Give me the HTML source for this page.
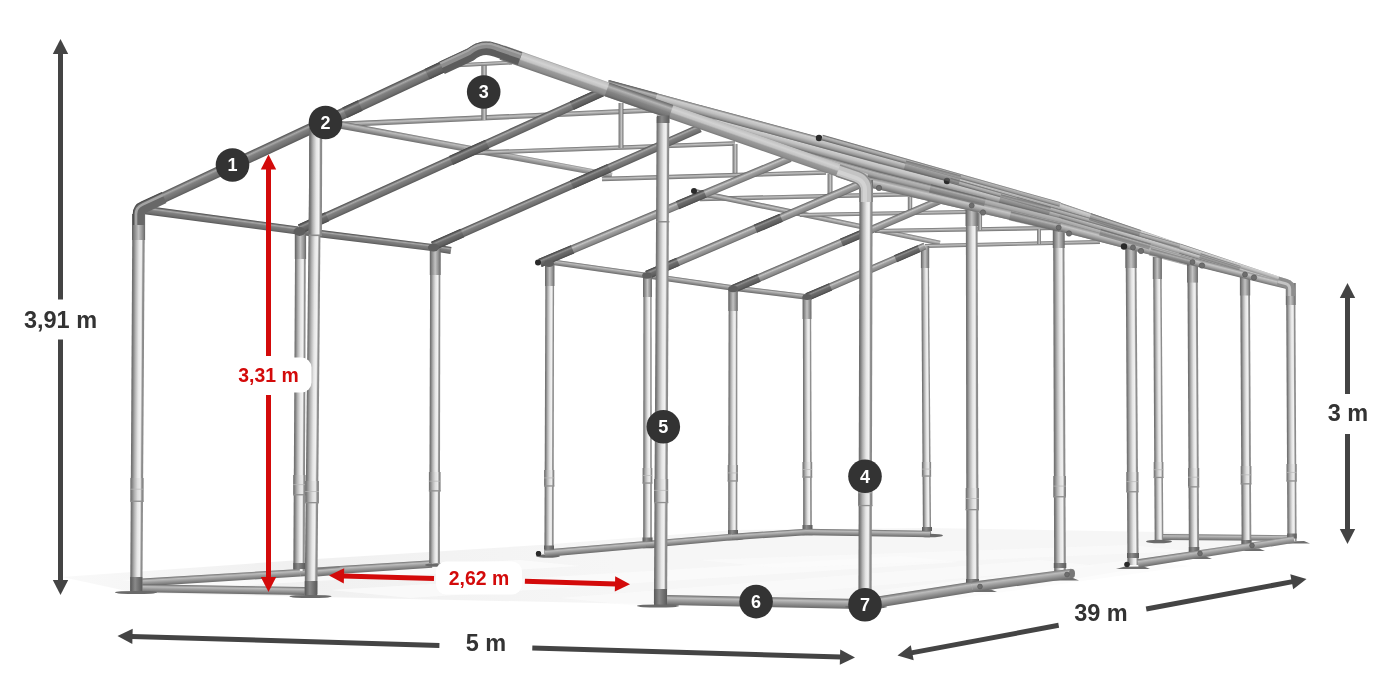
<!DOCTYPE html>
<html lang="pl"><head><meta charset="utf-8"><title>Wymiary hali namiotowej</title>
<style>html,body{margin:0;padding:0;background:#fff}svg{display:block;will-change:transform}text{font-family:"Liberation Sans",sans-serif;font-weight:700}</style></head>
<body><svg width="1400" height="700" viewBox="0 0 1400 700">
<rect width="1400" height="700" fill="#fff"/>
<defs>
<linearGradient id="gPost" x1="0" y1="0" x2="0" y2="1"><stop offset="0" stop-color="#6c6c6c"/><stop offset=".1" stop-color="#787878"/><stop offset=".3" stop-color="#b2b2b2"/><stop offset=".55" stop-color="#e6e6e6"/><stop offset=".74" stop-color="#f2f2f2"/><stop offset=".8" stop-color="#d4d4d4"/><stop offset=".86" stop-color="#929292"/><stop offset="1" stop-color="#868686"/></linearGradient>
<linearGradient id="gPostH" x1="0" y1="0" x2="1" y2="0"><stop offset="0" stop-color="#707070"/><stop offset=".1" stop-color="#7e7e7e"/><stop offset=".3" stop-color="#b0b0b0"/><stop offset=".55" stop-color="#dedede"/><stop offset=".74" stop-color="#eaeaea"/><stop offset=".8" stop-color="#cccccc"/><stop offset=".86" stop-color="#8e8e8e"/><stop offset="1" stop-color="#828282"/></linearGradient>
<linearGradient id="gSleeve" x1="0" y1="0" x2="1" y2="0"><stop offset="0" stop-color="#5e5e5e"/><stop offset=".2" stop-color="#8a8a8a"/><stop offset=".5" stop-color="#c2c2c2"/><stop offset=".75" stop-color="#9a9a9a"/><stop offset="1" stop-color="#666"/></linearGradient>
<linearGradient id="gBase" x1="0" y1="0" x2="1" y2="0"><stop offset="0" stop-color="#585858"/><stop offset=".4" stop-color="#8a8a8a"/><stop offset="1" stop-color="#5a5a5a"/></linearGradient>
<linearGradient id="gDark" x1="0" y1="0" x2="0" y2="1"><stop offset="0" stop-color="#484848"/><stop offset=".12" stop-color="#6a6a6a"/><stop offset=".28" stop-color="#a8a8a8"/><stop offset=".46" stop-color="#808080"/><stop offset=".8" stop-color="#6e6e6e"/><stop offset="1" stop-color="#565656"/></linearGradient>
<linearGradient id="gRaftL" x1="0" y1="0" x2="0" y2="1"><stop offset="0" stop-color="#585858"/><stop offset=".14" stop-color="#868686"/><stop offset=".32" stop-color="#c4c4c4"/><stop offset=".5" stop-color="#a0a0a0"/><stop offset=".82" stop-color="#868686"/><stop offset="1" stop-color="#606060"/></linearGradient>
<linearGradient id="gDarkS" x1="0" y1="0" x2="0" y2="1"><stop offset="0" stop-color="#404040"/><stop offset=".14" stop-color="#5c5c5c"/><stop offset=".3" stop-color="#8e8e8e"/><stop offset=".48" stop-color="#6c6c6c"/><stop offset=".8" stop-color="#5e5e5e"/><stop offset="1" stop-color="#484848"/></linearGradient>
<linearGradient id="gMid" x1="0" y1="0" x2="0" y2="1"><stop offset="0" stop-color="#6c6c6c"/><stop offset=".28" stop-color="#bcbcbc"/><stop offset=".55" stop-color="#9c9c9c"/><stop offset="1" stop-color="#6a6a6a"/></linearGradient>
<linearGradient id="gEave" x1="0" y1="0" x2="0" y2="1"><stop offset="0" stop-color="#8a8a8a"/><stop offset=".3" stop-color="#c6c6c6"/><stop offset=".6" stop-color="#a2a2a2"/><stop offset="1" stop-color="#6c6c6c"/></linearGradient>
<linearGradient id="gLight" x1="0" y1="0" x2="0" y2="1"><stop offset="0" stop-color="#707070"/><stop offset=".22" stop-color="#cecece"/><stop offset=".5" stop-color="#bebebe"/><stop offset=".8" stop-color="#989898"/><stop offset="1" stop-color="#686868"/></linearGradient>
<linearGradient id="gLight2" x1="0" y1="0" x2="0" y2="1"><stop offset="0" stop-color="#606060"/><stop offset=".3" stop-color="#b6b6b6"/><stop offset=".6" stop-color="#a2a2a2"/><stop offset="1" stop-color="#626262"/></linearGradient>
<linearGradient id="gLightR" x1="0" y1="0" x2="0" y2="1"><stop offset="0" stop-color="#9a9a9a"/><stop offset=".08" stop-color="#c0c0c0"/><stop offset=".3" stop-color="#d2d2d2"/><stop offset=".5" stop-color="#c2c2c2"/><stop offset=".6" stop-color="#9c9c9c"/><stop offset=".85" stop-color="#8c8c8c"/><stop offset="1" stop-color="#707070"/></linearGradient>
<linearGradient id="gThin" x1="0" y1="0" x2="0" y2="1"><stop offset="0" stop-color="#6a6a6a"/><stop offset=".4" stop-color="#c2c2c2"/><stop offset="1" stop-color="#6e6e6e"/></linearGradient>
<linearGradient id="gFloor" x1="0" y1="0" x2="1" y2="0"><stop offset="0" stop-color="#f9f9f9"/><stop offset=".18" stop-color="#f0f0f0"/><stop offset=".45" stop-color="#f6f6f6"/><stop offset="1" stop-color="#f6f6f6"/></linearGradient>
</defs>
<polygon points="62,577 300,560 540,545 735,530 925,528 1160,532 1292,538 1140,568 1068,580 866,607 640,604 320,597 136,593" fill="url(#gFloor)"/>
<polygon points="120,580 520,560 580,566 200,588" fill="#fbfbfb" opacity="0.8"/>
<polygon points="330,590 900,556 960,562 410,598" fill="#fbfbfb" opacity="0.75"/>
<polygon points="560,598 1040,560 1100,566 640,606" fill="#fbfbfb" opacity="0.7"/>
<polygon points="700,560 1130,545 1190,551 780,568" fill="#fbfbfb" opacity="0.7"/>
<polygon points="880,590 1130,560 1190,566 960,598" fill="#fbfbfb" opacity="0.6499999999999999"/>
<path transform="translate(326.0 125.0) rotate(-2.59)" d="M0 -2.70L331.3 -2.45L331.3 2.45L0 2.70Z" fill="url(#gThin)"/>
<path transform="translate(484.0 62.0) rotate(90.00)" d="M0 -2.70L58.0 -2.70L58.0 2.70L0 2.70Z" fill="url(#gThin)"/>
<path transform="translate(452.0 65.5) rotate(-2.86)" d="M0 -1.95L60.1 -1.95L60.1 1.95L0 1.95Z" fill="url(#gThin)"/>
<path transform="translate(330.0 123.0) rotate(10.55)" d="M0 -3.75L286.8 -2.75L286.8 2.75L0 3.75Z" fill="url(#gMid)"/>
<path transform="translate(470.0 153.0) rotate(-2.05)" d="M0 -2.20L265.2 -2.20L265.2 2.20L0 2.20Z" fill="url(#gThin)"/>
<path transform="translate(621.0 103.0) rotate(90.00)" d="M0 -2.45L45.0 -2.45L45.0 2.45L0 2.45Z" fill="url(#gThin)"/>
<path transform="translate(735.0 144.0) rotate(90.00)" d="M0 -2.45L32.0 -2.45L32.0 2.45L0 2.45Z" fill="url(#gThin)"/>
<path transform="translate(602.0 179.0) rotate(-1.66)" d="M0 -2.20L224.1 -2.20L224.1 2.20L0 2.20Z" fill="url(#gThin)"/>
<path transform="translate(830.0 174.0) rotate(90.00)" d="M0 -2.45L22.0 -2.45L22.0 2.45L0 2.45Z" fill="url(#gThin)"/>
<path transform="translate(700.0 199.0) rotate(-1.30)" d="M0 -2.20L265.1 -2.20L265.1 2.20L0 2.20Z" fill="url(#gThin)"/>
<path transform="translate(696.0 192.0) rotate(11.81)" d="M0 -2.70L249.3 -2.45L249.3 2.45L0 2.70Z" fill="url(#gThin)"/>
<path transform="translate(800.0 215.0) rotate(-1.02)" d="M0 -2.05L168.0 -2.05L168.0 2.05L0 2.05Z" fill="url(#gThin)"/>
<path transform="translate(910.0 197.0) rotate(90.00)" d="M0 -2.20L17.0 -2.20L17.0 2.20L0 2.20Z" fill="url(#gThin)"/>
<path transform="translate(875.0 231.0) rotate(-0.95)" d="M0 -2.05L181.0 -2.05L181.0 2.05L0 2.05Z" fill="url(#gThin)"/>
<path transform="translate(980.0 213.0) rotate(90.00)" d="M0 -2.05L17.0 -2.05L17.0 2.05L0 2.05Z" fill="url(#gThin)"/>
<path transform="translate(925.0 246.0) rotate(-1.31)" d="M0 -1.95L175.0 -1.95L175.0 1.95L0 1.95Z" fill="url(#gThin)"/>
<path transform="translate(1039.0 229.0) rotate(90.00)" d="M0 -1.95L15.0 -1.95L15.0 1.95L0 1.95Z" fill="url(#gThin)"/>
<path transform="translate(551.0 262.0) rotate(8.09)" d="M0 -2.75L96.0 -2.75L96.0 2.75L0 2.75Z" fill="url(#gMid)"/>
<path transform="translate(646.0 275.5) rotate(8.18)" d="M0 -2.75L87.9 -2.75L87.9 2.75L0 2.75Z" fill="url(#gMid)"/>
<path transform="translate(733.0 288.0) rotate(6.93)" d="M0 -2.75L74.5 -2.75L74.5 2.75L0 2.75Z" fill="url(#gMid)"/>
<path transform="translate(927.0 534.0) rotate(-90.40)" d="M0 -4.10L288.0 -3.85L288.0 3.85L0 4.10Z" fill="url(#gPost)"/>
<rect x="920.9" y="246.0" width="8.3" height="22" fill="url(#gSleeve)"/>
<rect x="921.9" y="462.0" width="9.2" height="14.6" fill="url(#gPostH)"/>
<rect x="921.9" y="475.4" width="9.2" height="1.3" fill="#909090"/>
<rect x="921.9" y="468.6" width="9.2" height="1" fill="#b8b8b8" opacity=".7"/>
<path transform="translate(807.0 297.0) rotate(-23.37)" d="M0 -3.75L128.5 -3.50L128.5 3.50L0 3.75Z" fill="url(#gRaftL)"/>
<path transform="translate(807.0 297.0) rotate(-23.37)" d="M0 -3.95L25.7 -3.90L25.7 3.90L0 3.95Z" fill="url(#gDarkS)"/>
<path transform="translate(895.5 258.8) rotate(-23.37)" d="M0 -3.76L25.7 -3.71L25.7 3.71L0 3.76Z" fill="url(#gDarkS)"/>
<path transform="translate(733.0 289.0) rotate(-23.20)" d="M0 -4.00L236.1 -3.75L236.1 3.75L0 4.00Z" fill="url(#gRaftL)"/>
<path transform="translate(733.0 289.0) rotate(-23.20)" d="M0 -4.20L28.3 -4.17L28.3 4.17L0 4.20Z" fill="url(#gDarkS)"/>
<path transform="translate(841.5 242.5) rotate(-23.20)" d="M0 -4.08L23.6 -4.05L23.6 4.05L0 4.08Z" fill="url(#gDarkS)"/>
<path transform="translate(732.7 537.0) rotate(-89.93)" d="M0 -4.60L248.0 -4.35L248.0 4.35L0 4.60Z" fill="url(#gPost)"/>
<rect x="728.4" y="289.0" width="9.3" height="22" fill="url(#gSleeve)"/>
<rect x="727.7" y="465.0" width="10.2" height="16.5" fill="url(#gPostH)"/>
<rect x="727.7" y="480.3" width="10.2" height="1.3" fill="#909090"/>
<rect x="727.7" y="472.4" width="10.2" height="1" fill="#b8b8b8" opacity=".7"/>
<path transform="translate(807.5 531.0) rotate(-90.12)" d="M0 -4.35L234.0 -4.10L234.0 4.10L0 4.35Z" fill="url(#gPost)"/>
<rect x="802.6" y="297.0" width="8.8" height="22" fill="url(#gSleeve)"/>
<rect x="802.5" y="462.0" width="9.7" height="15.6" fill="url(#gPostH)"/>
<rect x="802.5" y="476.4" width="9.7" height="1.3" fill="#909090"/>
<rect x="802.5" y="469.0" width="9.7" height="1" fill="#b8b8b8" opacity=".7"/>
<ellipse cx="733" cy="538.5" rx="11" ry="1.8" fill="#6a6a6a"/>
<ellipse cx="807.5" cy="533.5" rx="11" ry="1.8" fill="#6a6a6a"/>
<ellipse cx="930" cy="535.5" rx="13" ry="1.8" fill="#6a6a6a"/>
<path transform="translate(1159.0 540.0) rotate(-90.34)" d="M0 -4.35L283.0 -4.20L283.0 4.20L0 4.35Z" fill="url(#gPost)"/>
<rect x="1152.8" y="257.0" width="9.0" height="22" fill="url(#gSleeve)"/>
<rect x="1153.7" y="462.0" width="9.7" height="16.0" fill="url(#gPostH)"/>
<rect x="1153.7" y="476.8" width="9.7" height="1.3" fill="#909090"/>
<rect x="1153.7" y="469.2" width="9.7" height="1" fill="#b8b8b8" opacity=".7"/>
<path transform="translate(1163.0 537.0) rotate(0.46)" d="M0 -3.00L125.0 -2.75L125.0 2.75L0 3.00Z" fill="url(#gMid)"/>
<ellipse cx="1159" cy="541.5" rx="13" ry="1.8" fill="#6a6a6a"/>
<path transform="translate(540.0 263.0) rotate(-22.78)" d="M0 -4.25L271.2 -4.00L271.2 4.00L0 4.25Z" fill="url(#gRaftL)"/>
<path transform="translate(540.0 263.0) rotate(-22.78)" d="M0 -4.45L35.3 -4.42L35.3 4.42L0 4.45Z" fill="url(#gDarkS)"/>
<path transform="translate(677.5 205.2) rotate(-22.78)" d="M0 -4.31L29.8 -4.29L29.8 4.29L0 4.31Z" fill="url(#gDarkS)"/>
<path transform="translate(647.0 275.0) rotate(-23.09)" d="M0 -4.25L280.5 -4.00L280.5 4.00L0 4.25Z" fill="url(#gRaftL)"/>
<path transform="translate(647.0 275.0) rotate(-23.09)" d="M0 -4.45L33.7 -4.42L33.7 4.42L0 4.45Z" fill="url(#gDarkS)"/>
<path transform="translate(755.4 228.8) rotate(-23.09)" d="M0 -4.34L28.0 -4.32L28.0 4.32L0 4.34Z" fill="url(#gDarkS)"/>
<path transform="translate(549.0 554.0) rotate(-89.85)" d="M0 -4.60L290.0 -4.35L290.0 4.35L0 4.60Z" fill="url(#gPost)"/>
<rect x="545.1" y="264.0" width="9.3" height="22" fill="url(#gSleeve)"/>
<rect x="544.1" y="470.0" width="10.2" height="16.5" fill="url(#gPostH)"/>
<rect x="544.1" y="485.3" width="10.2" height="1.3" fill="#909090"/>
<rect x="544.1" y="477.4" width="10.2" height="1" fill="#b8b8b8" opacity=".7"/>
<path transform="translate(647.5 545.0) rotate(-90.00)" d="M0 -4.35L270.0 -4.10L270.0 4.10L0 4.35Z" fill="url(#gPost)"/>
<rect x="643.1" y="275.0" width="8.8" height="22" fill="url(#gSleeve)"/>
<rect x="642.6" y="468.0" width="9.7" height="15.6" fill="url(#gPostH)"/>
<rect x="642.6" y="482.4" width="9.7" height="1.3" fill="#909090"/>
<rect x="642.6" y="475.0" width="9.7" height="1" fill="#b8b8b8" opacity=".7"/>
<circle cx="538" cy="262.5" r="3" fill="#2a2a2a"/>
<circle cx="694" cy="191" r="3" fill="#2a2a2a"/>
<ellipse cx="548" cy="556" rx="12" ry="1.8" fill="#6a6a6a"/>
<circle cx="538.5" cy="553.5" r="2.6" fill="#2a2a2a"/>
<ellipse cx="648" cy="546.5" rx="11" ry="1.8" fill="#6a6a6a"/>
<path transform="translate(545.0 553.2) rotate(-4.92)" d="M0 -3.75L101.4 -3.50L101.4 3.50L0 3.75Z" fill="url(#gMid)"/>
<path transform="translate(646.0 544.5) rotate(-4.98)" d="M0 -3.50L86.3 -3.25L86.3 3.25L0 3.50Z" fill="url(#gMid)"/>
<path transform="translate(732.0 537.0) rotate(-3.87)" d="M0 -3.25L74.2 -3.25L74.2 3.25L0 3.25Z" fill="url(#gMid)"/>
<path transform="translate(806.0 532.0) rotate(0.92)" d="M0 -3.25L124.0 -3.25L124.0 3.25L0 3.25Z" fill="url(#gMid)"/>
<rect x="544" y="545.5" width="10" height="4" fill="url(#gBase)"/>
<rect x="642.5" y="537.5" width="10" height="4" fill="url(#gBase)"/>
<rect x="728" y="530" width="10" height="4" fill="url(#gBase)"/>
<rect x="802.5" y="525" width="10" height="4" fill="url(#gBase)"/>
<rect x="922" y="527" width="10" height="4" fill="url(#gBase)"/>
<circle cx="538.5" cy="553.5" r="2.6" fill="#2a2a2a"/>
<path transform="translate(300.0 572.5) rotate(-3.68)" d="M0 -4.00L132.3 -3.75L132.3 3.75L0 4.00Z" fill="url(#gMid)"/>
<path transform="translate(303.0 231.5) rotate(7.07)" d="M0 -3.75L130.0 -3.50L130.0 3.50L0 3.75Z" fill="url(#gDark)"/>
<path transform="translate(432.0 247.5) rotate(8.97)" d="M0 -3.50L19.2 -3.50L19.2 3.50L0 3.50Z" fill="url(#gDark)"/>
<path transform="translate(433.0 246.0) rotate(-23.84)" d="M0 -4.50L291.9 -4.25L291.9 4.25L0 4.50Z" fill="url(#gDark)"/>
<path transform="translate(433.0 246.0) rotate(-23.84)" d="M0 -4.70L32.1 -4.67L32.1 4.67L0 4.70Z" fill="url(#gDarkS)"/>
<path transform="translate(571.8 184.6) rotate(-23.84)" d="M0 -4.57L40.9 -4.54L40.9 4.54L0 4.57Z" fill="url(#gDarkS)"/>
<path transform="translate(434.5 563.0) rotate(-89.86)" d="M0 -5.35L314.0 -5.10L314.0 5.10L0 5.35Z" fill="url(#gPost)"/>
<rect x="429.8" y="249.0" width="10.8" height="26" fill="url(#gSleeve)"/>
<rect x="428.9" y="472.0" width="11.7" height="19.4" fill="url(#gPostH)"/>
<rect x="428.9" y="490.2" width="11.7" height="1.3" fill="#909090"/>
<rect x="428.9" y="480.7" width="11.7" height="1" fill="#b8b8b8" opacity=".7"/>
<ellipse cx="437" cy="565" rx="12" ry="1.8" fill="#6a6a6a"/>
<path transform="translate(317.0 572.5) rotate(-4.97)" d="M0 -4.00L23.1 -4.00L23.1 4.00L0 4.00Z" fill="url(#gMid)"/>
<path transform="translate(145.0 210.0) rotate(7.63)" d="M0 -4.25L154.4 -4.00L154.4 4.00L0 4.25Z" fill="url(#gDark)"/>
<path transform="translate(300.0 229.0) rotate(-24.40)" d="M0 -4.75L331.6 -4.50L331.6 4.50L0 4.75Z" fill="url(#gDark)"/>
<path transform="translate(300.0 229.0) rotate(-24.40)" d="M0 -4.95L29.8 -4.93L29.8 4.93L0 4.95Z" fill="url(#gDarkS)"/>
<path transform="translate(451.0 160.5) rotate(-24.40)" d="M0 -4.83L39.8 -4.79L39.8 4.79L0 4.83Z" fill="url(#gDarkS)"/>
<path transform="translate(571.8 105.7) rotate(-24.40)" d="M0 -4.73L33.2 -4.70L33.2 4.70L0 4.73Z" fill="url(#gDarkS)"/>
<path transform="translate(299.0 571.0) rotate(-89.75)" d="M0 -5.70L339.0 -5.35L339.0 5.35L0 5.70Z" fill="url(#gPost)"/>
<rect x="294.8" y="232.0" width="11.3" height="27" fill="url(#gSleeve)"/>
<rect x="293.2" y="475.0" width="12.4" height="20.3" fill="url(#gPostH)"/>
<rect x="293.2" y="494.1" width="12.4" height="1.3" fill="#909090"/>
<rect x="293.2" y="484.1" width="12.4" height="1" fill="#b8b8b8" opacity=".7"/>
<path transform="translate(142.0 582.5) rotate(-3.51)" d="M0 -4.00L158.3 -3.75L158.3 3.75L0 4.00Z" fill="url(#gMid)"/>
<rect x="293.4" y="563" width="11.6" height="6" fill="url(#gBase)"/>
<ellipse cx="299.5" cy="231.5" rx="6" ry="4.4" fill="#5e5e5e"/>
<ellipse cx="433.5" cy="247.5" rx="5.6" ry="3.9999999999999996" fill="#5e5e5e"/>
<ellipse cx="549" cy="263.5" rx="5" ry="3.4" fill="#5e5e5e"/>
<ellipse cx="647" cy="275.5" rx="4.8" ry="3.1999999999999997" fill="#5e5e5e"/>
<ellipse cx="733" cy="289" rx="4.8" ry="3.1999999999999997" fill="#5e5e5e"/>
<ellipse cx="807" cy="297" rx="4.6" ry="3.0" fill="#5e5e5e"/>
<path transform="translate(972.5 590.0) rotate(-90.12)" d="M0 -6.10L386.0 -5.85L386.0 5.85L0 6.10Z" fill="url(#gPost)"/>
<rect x="965.6" y="204.0" width="12.3" height="22" fill="url(#gSleeve)"/>
<rect x="965.7" y="488.0" width="13.2" height="22.2" fill="url(#gPostH)"/>
<rect x="965.7" y="509.0" width="13.2" height="1.3" fill="#909090"/>
<rect x="965.7" y="498.0" width="13.2" height="1" fill="#b8b8b8" opacity=".7"/>
<path transform="translate(1060.0 576.0) rotate(-90.21)" d="M0 -5.85L350.0 -5.60L350.0 5.60L0 5.85Z" fill="url(#gPost)"/>
<rect x="1052.8" y="226.0" width="11.8" height="22" fill="url(#gSleeve)"/>
<rect x="1053.3" y="476.0" width="12.7" height="21.3" fill="url(#gPostH)"/>
<rect x="1053.3" y="496.1" width="12.7" height="1.3" fill="#909090"/>
<rect x="1053.3" y="485.6" width="12.7" height="1" fill="#b8b8b8" opacity=".7"/>
<path transform="translate(1133.0 565.0) rotate(-90.36)" d="M0 -5.60L319.0 -5.35L319.0 5.35L0 5.60Z" fill="url(#gPost)"/>
<rect x="1125.4" y="246.0" width="11.3" height="22" fill="url(#gSleeve)"/>
<rect x="1126.3" y="472.0" width="12.2" height="20.3" fill="url(#gPostH)"/>
<rect x="1126.3" y="491.1" width="12.2" height="1.3" fill="#909090"/>
<rect x="1126.3" y="481.1" width="12.2" height="1" fill="#b8b8b8" opacity=".7"/>
<path transform="translate(1194.0 556.0) rotate(-90.29)" d="M0 -5.10L295.4 -5.10L295.4 5.10L0 5.10Z" fill="url(#gPost)"/>
<rect x="1187.1" y="260.6" width="10.8" height="22" fill="url(#gSleeve)"/>
<rect x="1188.0" y="468.0" width="11.2" height="19.4" fill="url(#gPostH)"/>
<rect x="1188.0" y="486.2" width="11.2" height="1.3" fill="#909090"/>
<rect x="1188.0" y="476.7" width="11.2" height="1" fill="#b8b8b8" opacity=".7"/>
<path transform="translate(1246.5 548.0) rotate(-90.31)" d="M0 -4.85L274.5 -4.85L274.5 4.85L0 4.85Z" fill="url(#gPost)"/>
<rect x="1239.9" y="273.5" width="10.3" height="22" fill="url(#gSleeve)"/>
<rect x="1240.7" y="466.0" width="10.7" height="18.4" fill="url(#gPostH)"/>
<rect x="1240.7" y="483.2" width="10.7" height="1.3" fill="#909090"/>
<rect x="1240.7" y="474.3" width="10.7" height="1" fill="#b8b8b8" opacity=".7"/>
<path transform="translate(1292.0 541.0) rotate(-90.29)" d="M0 -4.60L258.0 -4.60L258.0 4.60L0 4.60Z" fill="url(#gPost)"/>
<rect x="1285.8" y="283.0" width="9.8" height="22" fill="url(#gSleeve)"/>
<rect x="1286.5" y="464.0" width="10.2" height="17.5" fill="url(#gPostH)"/>
<rect x="1286.5" y="480.3" width="10.2" height="1.3" fill="#909090"/>
<rect x="1286.5" y="471.9" width="10.2" height="1" fill="#b8b8b8" opacity=".7"/>
<polygon points="608,80 700,105 880,153.7 1060,203 1180,244 1290,281 1292,289.7 1180,262.3 1060,231.4 880,189.7 866,184 700,128 608,92" fill="#a9a9a9"/>
<path transform="translate(790.0 151.0) rotate(15.56)" d="M0 -4.00L94.0 -4.50L94.0 4.50L0 4.00Z" fill="url(#gLight2)"/>
<path transform="translate(880.0 176.0) rotate(13.93)" d="M0 -4.50L186.1 -3.75L186.1 3.75L0 4.50Z" fill="url(#gLight2)"/>
<path transform="translate(1060.0 220.6) rotate(16.16)" d="M0 -3.75L125.6 -2.75L125.6 2.75L0 3.75Z" fill="url(#gLight2)"/>
<path transform="translate(1180.0 255.3) rotate(15.78)" d="M0 -2.75L114.9 -1.75L114.9 1.75L0 2.75Z" fill="url(#gLight2)"/>
<path transform="translate(715.0 122.0) rotate(15.39)" d="M0 -4.00L171.8 -4.75L171.8 4.75L0 4.00Z" fill="url(#gLight)"/>
<path transform="translate(880.0 167.4) rotate(14.47)" d="M0 -4.75L186.5 -4.00L186.5 4.00L0 4.75Z" fill="url(#gLight)"/>
<path transform="translate(1060.0 213.8) rotate(17.21)" d="M0 -4.00L126.3 -2.75L126.3 2.75L0 4.00Z" fill="url(#gLight)"/>
<path transform="translate(1180.0 251.0) rotate(16.88)" d="M0 -2.75L115.6 -1.75L115.6 1.75L0 2.75Z" fill="url(#gLight)"/>
<path transform="translate(608.0 85.0) rotate(15.22)" d="M0 -5.00L96.0 -5.00L96.0 5.00L0 5.00Z" fill="url(#gLight)"/>
<path transform="translate(700.0 110.0) rotate(15.06)" d="M0 -5.00L187.0 -5.00L187.0 5.00L0 5.00Z" fill="url(#gLight)"/>
<path transform="translate(880.0 158.4) rotate(15.04)" d="M0 -5.00L187.0 -4.00L187.0 4.00L0 5.00Z" fill="url(#gLight)"/>
<path transform="translate(1060.0 206.7) rotate(18.30)" d="M0 -4.00L127.0 -2.75L127.0 2.75L0 4.00Z" fill="url(#gLight)"/>
<path transform="translate(1180.0 246.4) rotate(18.01)" d="M0 -2.75L116.3 -1.75L116.3 1.75L0 2.75Z" fill="url(#gLight)"/>
<path transform="translate(608.0 85.0) rotate(15.15)" d="M0 -5.10L49.7 -5.10L49.7 5.10L0 5.10Z" fill="url(#gDark)" opacity=".65"/>
<circle cx="819" cy="138" r="3.2" fill="#2a2a2a"/>
<circle cx="947" cy="181" r="3.2" fill="#2a2a2a"/>
<path transform="translate(822.0 137.5) rotate(15.72)" d="M0 -2.75L247.3 -2.25L247.3 2.25L0 2.75Z" fill="url(#gLight2)"/>
<path transform="translate(950.0 180.5) rotate(15.90)" d="M0 -2.50L239.1 -2.00L239.1 2.00L0 2.50Z" fill="url(#gLight2)"/>
<path transform="translate(866.0 181.8) rotate(11.99)" d="M0 -5.00L14.9 -5.00L14.9 5.00L0 5.00Z" fill="url(#gEave)"/>
<path transform="translate(880.0 184.7) rotate(13.21)" d="M0 -5.00L185.5 -4.50L185.5 4.50L0 5.00Z" fill="url(#gEave)"/>
<path transform="translate(1060.0 226.9) rotate(14.79)" d="M0 -4.50L124.7 -3.75L124.7 3.75L0 4.50Z" fill="url(#gEave)"/>
<path transform="translate(1180.0 258.6) rotate(14.26)" d="M0 -3.75L114.1 -3.25L114.1 3.25L0 3.75Z" fill="url(#gEave)"/>
<path transform="translate(905.0 165.1) rotate(15.02)" d="M0 -4.75L56.9 -4.50L56.9 4.50L0 4.75Z" fill="url(#gDark)" opacity=".55"/>
<path transform="translate(1000.0 198.3) rotate(14.46)" d="M0 -4.25L51.6 -4.00L51.6 4.00L0 4.25Z" fill="url(#gDark)" opacity=".55"/>
<path transform="translate(1090.0 216.6) rotate(18.30)" d="M0 -3.50L52.7 -3.25L52.7 3.25L0 3.50Z" fill="url(#gDark)" opacity=".55"/>
<path transform="translate(930.0 188.4) rotate(13.91)" d="M0 -4.25L56.7 -4.00L56.7 4.00L0 4.25Z" fill="url(#gDark)" opacity=".55"/>
<path transform="translate(1100.0 232.2) rotate(16.14)" d="M0 -3.25L52.1 -3.00L52.1 3.00L0 3.25Z" fill="url(#gDark)" opacity=".55"/>
<path transform="translate(1200.0 255.7) rotate(17.23)" d="M0 -2.50L41.9 -2.25L41.9 2.25L0 2.50Z" fill="url(#gDark)" opacity=".55"/>
<path transform="translate(1010.0 215.9) rotate(13.34)" d="M0 -4.50L51.4 -4.25L51.4 4.25L0 4.50Z" fill="url(#gDark)" opacity=".55"/>
<path transform="translate(1150.0 251.9) rotate(14.92)" d="M0 -3.75L41.4 -3.50L41.4 3.50L0 3.75Z" fill="url(#gDark)" opacity=".55"/>
<circle cx="879" cy="188" r="2.7" fill="#6e6e6e" stroke="#555" stroke-width=".6"/>
<circle cx="983" cy="212.5" r="2.7" fill="#6e6e6e" stroke="#555" stroke-width=".6"/>
<circle cx="1069" cy="233.5" r="2.7" fill="#6e6e6e" stroke="#555" stroke-width=".6"/>
<circle cx="1141" cy="251" r="2.7" fill="#6e6e6e" stroke="#555" stroke-width=".6"/>
<circle cx="1202" cy="265.5" r="2.7" fill="#6e6e6e" stroke="#555" stroke-width=".6"/>
<circle cx="1254" cy="277.5" r="2.7" fill="#6e6e6e" stroke="#555" stroke-width=".6"/>
<circle cx="1124" cy="246.5" r="3.2" fill="#2a2a2a"/>
<circle cx="971.7" cy="205.5" r="2.5" fill="#6e6e6e" stroke="#555" stroke-width=".6"/>
<circle cx="1058.7" cy="227.5" r="2.5" fill="#6e6e6e" stroke="#555" stroke-width=".6"/>
<circle cx="1133" cy="247.5" r="2.5" fill="#6e6e6e" stroke="#555" stroke-width=".6"/>
<circle cx="1192.5" cy="262" r="2.5" fill="#6e6e6e" stroke="#555" stroke-width=".6"/>
<circle cx="1245" cy="274.5" r="2.5" fill="#6e6e6e" stroke="#555" stroke-width=".6"/>
<path d="M1290.7,296 L1290.7,289 Q1290.7,284.5 1286,283.2 L1278,281" fill="none" stroke="#8e8e8e" stroke-width="8.6"/>
<path d="M1289.7,296 L1289.7,289 Q1289.7,284.8 1285.6,283.6 L1278,281.6" fill="none" stroke="#c4c4c4" stroke-width="3"/>
<polygon points="963,592 997,592 991,589.4 971,589.8" fill="#6e6e6e"/>
<polygon points="1040,580.5 1079,580.5 1073,577.9 1048,578.3" fill="#6e6e6e"/>
<polygon points="1116,569 1150,569 1144,566.4 1124,566.8" fill="#6e6e6e"/>
<polygon points="1188,559 1212,559 1206,556.4 1196,556.8" fill="#6e6e6e"/>
<polygon points="1242,551 1265,551 1259,548.4 1250,548.8" fill="#6e6e6e"/>
<polygon points="1287,543.5 1310,543.5 1304,540.9 1295,541.3" fill="#6e6e6e"/>
<rect x="966.0" y="579" width="13" height="5" fill="url(#gBase)"/>
<rect x="1053.8" y="563" width="12.5" height="5" fill="url(#gBase)"/>
<rect x="1127.0" y="553" width="12" height="5" fill="url(#gBase)"/>
<rect x="1188.8" y="547" width="10.5" height="5" fill="url(#gBase)"/>
<rect x="1241.5" y="540" width="10" height="5" fill="url(#gBase)"/>
<rect x="1287.2" y="533.5" width="9.5" height="5" fill="url(#gBase)"/>
<path transform="translate(1138.0 563.5) rotate(-8.75)" d="M0 -4.25L157.8 -3.25L157.8 3.25L0 4.25Z" fill="url(#gMid)"/>
<path transform="translate(872.0 603.0) rotate(-9.09)" d="M0 -5.50L101.3 -5.25L101.3 5.25L0 5.50Z" fill="url(#gMid)"/>
<path transform="translate(972.0 587.0) rotate(-7.69)" d="M0 -5.25L100.9 -4.75L100.9 4.75L0 5.25Z" fill="url(#gMid)"/>
<ellipse cx="1072" cy="573.5" rx="3" ry="4.6" fill="#777"/>
<circle cx="980" cy="586.5" r="2.4" fill="#6e6e6e" stroke="#555" stroke-width=".6"/>
<circle cx="1067" cy="574.5" r="2.4" fill="#6e6e6e" stroke="#555" stroke-width=".6"/>
<circle cx="1200" cy="553.5" r="2.4" fill="#6e6e6e" stroke="#555" stroke-width=".6"/>
<circle cx="1252" cy="545.5" r="2.4" fill="#6e6e6e" stroke="#555" stroke-width=".6"/>
<circle cx="1127" cy="564.5" r="2.8" fill="#2a2a2a"/>
<path transform="translate(142.0 588.3) rotate(0.95)" d="M0 -4.00L163.0 -4.00L163.0 4.00L0 4.00Z" fill="url(#gMid)"/>
<path transform="translate(667.0 600.0) rotate(1.19)" d="M0 -5.00L193.0 -5.00L193.0 5.00L0 5.00Z" fill="url(#gMid)"/>
<path transform="translate(139.0 209.0) rotate(-25.08)" d="M0 -5.25L378.7 -5.75L378.7 5.75L0 5.25Z" fill="url(#gDark)"/>
<path transform="translate(344.8 112.7) rotate(-25.08)" d="M0 -5.75L17.0 -5.77L17.0 5.77L0 5.75Z" fill="url(#gDarkS)"/>
<path transform="translate(427.1 74.2) rotate(-25.08)" d="M0 -5.87L17.0 -5.89L17.0 5.89L0 5.87Z" fill="url(#gDarkS)"/>
<path transform="translate(502.0 52.6) rotate(19.29)" d="M0 -7.45L385.7 -6.40L385.7 6.40L0 7.45Z" fill="url(#gLightR)"/>
<path transform="translate(607.0 89.4) rotate(19.29)" d="M0 -7.30L67.8 -7.10L67.8 7.10L0 7.30Z" fill="url(#gDark)" opacity=".7"/>
<path d="M442,68 L470,55 Q482,44.5 496,50.5 L520,58.9" fill="none" stroke="#5c5c5c" stroke-width="13"/>
<path d="M440.8,65.2 L468.8,52.2 Q482,41.2 497,47.6 L521,56" fill="none" stroke="#8e8e8e" stroke-width="6"/>
<path d="M440.2,63.6 L468.2,50.6 Q482,39.6 497.6,46 L521.6,54.4" fill="none" stroke="#a6a6a6" stroke-width="2"/>
<path d="M439.4,62 L467.4,49 Q482,37.4 498.2,44.2 L522.2,52.6" fill="none" stroke="#606060" stroke-width="1"/>
<path transform="translate(136.3 591.0) rotate(-89.65)" d="M0 -6.10L377.0 -6.25L377.0 6.25L0 6.10Z" fill="url(#gPost)"/>
<rect x="132.0" y="214.0" width="13.1" height="26" fill="url(#gSleeve)"/>
<rect x="130.4" y="478.0" width="13.2" height="23.8" fill="url(#gPostH)"/>
<rect x="130.4" y="500.6" width="13.2" height="1.3" fill="#909090"/>
<rect x="130.4" y="488.7" width="13.2" height="1" fill="#b8b8b8" opacity=".7"/>
<path d="M138.6,225 L138.6,215 Q138.6,209.7 143.5,207.4 L164,197.8" fill="none" stroke="#686868" stroke-width="11.6"/>
<path d="M136,225 L136,214 Q136,207.5 142.4,204.6 L163,195" fill="none" stroke="#a4a4a4" stroke-width="2.6"/>
<path d="M133.3,225 L133.3,214 Q133.3,205.3 141.2,202 L162,192.4" fill="none" stroke="#4c4c4c" stroke-width="1.1"/>
<path transform="translate(311.0 594.0) rotate(-89.45)" d="M0 -6.35L466.0 -5.85L466.0 5.85L0 6.35Z" fill="url(#gPost)"/>
<rect x="305.2" y="481.0" width="13.7" height="22.2" fill="url(#gPostH)"/>
<rect x="305.2" y="502.0" width="13.7" height="1.3" fill="#909090"/>
<rect x="305.2" y="491.0" width="13.7" height="1" fill="#b8b8b8" opacity=".7"/>
<path transform="translate(315.4 236.0) rotate(-89.84)" d="M0 -6.50L108.0 -6.50L108.0 6.50L0 6.50Z" fill="url(#gPost)"/>
<rect x="308.8" y="234.5" width="13.2" height="1.6" fill="#8c8c8c"/>
<path transform="translate(660.5 603.0) rotate(-89.71)" d="M0 -6.60L486.0 -6.35L486.0 6.35L0 6.60Z" fill="url(#gPost)"/>
<rect x="654.0" y="479.0" width="14.2" height="24.1" fill="url(#gPostH)"/>
<rect x="654.0" y="501.9" width="14.2" height="1.3" fill="#909090"/>
<rect x="654.0" y="489.9" width="14.2" height="1" fill="#b8b8b8" opacity=".7"/>
<rect x="656.2" y="221" width="13.2" height="1.5" fill="#8c8c8c"/>
<rect x="656.8" y="115.5" width="12.6" height="7.5" fill="url(#gBase)"/>
<path transform="translate(865.0 604.0) rotate(-89.86)" d="M0 -6.60L424.0 -6.60L424.0 6.60L0 6.60Z" fill="url(#gPost)"/>
<rect x="859.1" y="180.0" width="13.8" height="22" fill="url(#gSleeve)"/>
<rect x="858.2" y="481.0" width="14.2" height="25.1" fill="url(#gPostH)"/>
<rect x="858.2" y="504.9" width="14.2" height="1.3" fill="#909090"/>
<rect x="858.2" y="492.3" width="14.2" height="1" fill="#b8b8b8" opacity=".7"/>
<path d="M866,202 L866,190 Q866,180.5 857,177 L838,170.4" fill="none" stroke="#c4c4c4" stroke-width="12.6"/>
<path d="M871.6,202 L871.6,189 Q871.6,176.5 859,171.5 L840,165" fill="none" stroke="#8c8c8c" stroke-width="1.4"/>
<path d="M860.4,202 L860.4,191 Q860.4,184.5 854,182.2 L836,176" fill="none" stroke="#7e7e7e" stroke-width="1.4"/>
<path d="M865,202 L865,190 Q865,181.5 856.5,178 L838,171.6" fill="none" stroke="#d6d6d6" stroke-width="4" opacity=".8"/>
<rect x="130.3" y="577" width="12" height="15" fill="url(#gBase)"/>
<rect x="304.8" y="581" width="12.5" height="15" fill="url(#gBase)"/>
<rect x="654.0" y="589" width="13" height="16" fill="url(#gBase)"/>
<rect x="858.5" y="590" width="13" height="16" fill="url(#gBase)"/>
<ellipse cx="136" cy="592.5" rx="21" ry="1.6" fill="#6a6a6a"/>
<ellipse cx="310.5" cy="596.5" rx="21" ry="1.6" fill="#6a6a6a"/>
<ellipse cx="658" cy="606" rx="21" ry="1.6" fill="#6a6a6a"/>
<ellipse cx="866" cy="607" rx="21" ry="1.6" fill="#6a6a6a"/>
<line x1="60.5" y1="53.0" x2="60.5" y2="299.5" stroke="#444444" stroke-width="5"/>
<line x1="60.5" y1="339.5" x2="60.5" y2="581.0" stroke="#444444" stroke-width="5"/>
<polygon points="60.5,39.0 52.8,54.0 68.2,54.0" fill="#444444"/>
<polygon points="60.5,595.0 52.8,580.0 68.2,580.0" fill="#444444"/>
<line x1="1347.5" y1="297.0" x2="1347.5" y2="394.0" stroke="#444444" stroke-width="5"/>
<line x1="1347.5" y1="434.0" x2="1347.5" y2="530.0" stroke="#444444" stroke-width="5"/>
<polygon points="1347.5,283.0 1339.8,298.0 1355.2,298.0" fill="#444444"/>
<polygon points="1347.5,544.0 1339.8,529.0 1355.2,529.0" fill="#444444"/>
<line x1="131.5" y1="636.4" x2="439.4" y2="645.4" stroke="#444444" stroke-width="5"/>
<line x1="532.3" y1="648.1" x2="841.0" y2="657.1" stroke="#444444" stroke-width="5"/>
<polygon points="117.5,636.0 132.3,644.1 132.7,628.7" fill="#444444"/>
<polygon points="855.0,657.5 839.8,664.8 840.2,649.4" fill="#444444"/>
<line x1="911.3" y1="652.9" x2="1058.7" y2="625.3" stroke="#444444" stroke-width="5"/>
<line x1="1146.2" y1="609.0" x2="1292.7" y2="581.6" stroke="#444444" stroke-width="5"/>
<polygon points="897.5,655.5 913.7,660.3 910.8,645.2" fill="#444444"/>
<polygon points="1306.5,579.0 1293.2,589.3 1290.3,574.2" fill="#444444"/>
<line x1="268.5" y1="168.5" x2="268.5" y2="356.0" stroke="#d30a0a" stroke-width="5"/>
<line x1="268.5" y1="395.0" x2="268.5" y2="578.0" stroke="#d30a0a" stroke-width="5"/>
<polygon points="268.5,154.5 260.8,169.5 276.2,169.5" fill="#d30a0a"/>
<polygon points="268.5,592.0 260.8,577.0 276.2,577.0" fill="#d30a0a"/>
<line x1="343.0" y1="575.9" x2="434.0" y2="578.6" stroke="#d30a0a" stroke-width="5"/>
<line x1="524.9" y1="581.2" x2="616.0" y2="583.9" stroke="#d30a0a" stroke-width="5"/>
<polygon points="329.0,575.5 343.8,583.6 344.2,568.2" fill="#d30a0a"/>
<polygon points="630.0,584.3 614.8,591.6 615.2,576.2" fill="#d30a0a"/>
<rect x="12.5" y="302.0" width="96" height="35" rx="10" fill="#fff"/>
<text x="60.5" y="328" font-size="23.5" fill="#333" text-anchor="middle">3,91 m</text>
<rect x="1315.0" y="395.0" width="66" height="35" rx="10" fill="#fff"/>
<text x="1348" y="421" font-size="23.5" fill="#333" text-anchor="middle">3 m</text>
<rect x="453.0" y="625.3" width="66" height="35" rx="10" fill="#fff"/>
<text x="486" y="651.3" font-size="23.5" fill="#333" text-anchor="middle">5 m</text>
<rect x="1062.0" y="595.3" width="78" height="35" rx="10" fill="#fff"/>
<text x="1101" y="621.3" font-size="23.5" fill="#333" text-anchor="middle">39 m</text>
<rect x="225.5" y="357.5" width="86" height="35" rx="10" fill="#fff"/>
<text x="268.5" y="382" font-size="19.4" fill="#d30a0a" text-anchor="middle">3,31 m</text>
<rect x="436.0" y="561.5" width="86" height="33" rx="10" fill="#fff"/>
<text x="479" y="585" font-size="19.4" fill="#d30a0a" text-anchor="middle">2,62 m</text>
<circle cx="232.5" cy="165" r="16.8" fill="#333"/>
<text x="232.5" y="171.4" font-size="18" fill="#fff" text-anchor="middle">1</text>
<circle cx="325.5" cy="122.5" r="16.8" fill="#333"/>
<text x="325.5" y="128.9" font-size="18" fill="#fff" text-anchor="middle">2</text>
<circle cx="483.7" cy="92" r="16.8" fill="#333"/>
<text x="483.7" y="98.4" font-size="18" fill="#fff" text-anchor="middle">3</text>
<circle cx="865" cy="476.3" r="16.8" fill="#333"/>
<text x="865" y="482.7" font-size="18" fill="#fff" text-anchor="middle">4</text>
<circle cx="663.3" cy="426.8" r="16.8" fill="#333"/>
<text x="663.3" y="433.2" font-size="18" fill="#fff" text-anchor="middle">5</text>
<circle cx="756.1" cy="601.6" r="16.8" fill="#333"/>
<text x="756.1" y="608.0" font-size="18" fill="#fff" text-anchor="middle">6</text>
<circle cx="865" cy="604.8" r="16.8" fill="#333"/>
<text x="865" y="611.1999999999999" font-size="18" fill="#fff" text-anchor="middle">7</text>
</svg></body></html>
